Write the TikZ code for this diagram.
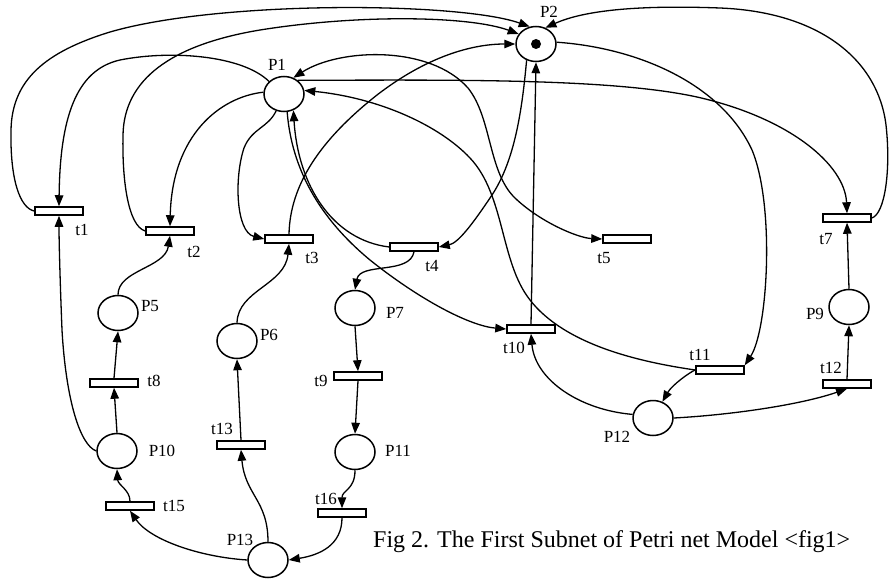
\documentclass[tikz,border=0pt]{standalone}
\usepackage{fontspec}
\setmainfont{Liberation Serif}
\usetikzlibrary{arrows.meta,shapes.geometric}
\begin{document}
\begin{tikzpicture}[x=1pt,y=-1pt,
  pplace/.style={draw,ellipse,minimum width=40pt,minimum height=35pt,inner sep=0pt,line width=1.5pt},
  ptrans/.style={draw,rectangle,minimum width=48pt,minimum height=8pt,inner sep=0pt,line width=1.5pt,fill=white},
  pnarc/.style={line width=1.3pt,-{Triangle[length=11pt,width=8.5pt]}},
  pnboth/.style={line width=1.3pt,{Triangle[length=11pt,width=8.5pt]}-{Triangle[length=11pt,width=8.5pt]}},
  lbl/.style={inner sep=0pt,font=\fontsize{17}{17}\selectfont},
  captxt/.style={inner sep=0pt,anchor=west,font=\fontsize{24}{24}\selectfont}]
\useasboundingbox (0,0) rectangle (891,578);

% places
\node[pplace] (P2) at (536,44) {};
\fill (P2.center) circle (5pt);
\node[pplace] (P1) at (284,94) {};
\node[pplace] (P5) at (118,313) {};
\node[pplace] (P6) at (237,341) {};
\node[pplace] (P7) at (355,308) {};
\node[pplace] (P9) at (849,307) {};
\node[pplace] (P10) at (117,451) {};
\node[pplace] (P11) at (355,452) {};
\node[pplace] (P12) at (653,418) {};
\node[pplace] (P13) at (268,560) {};

% transitions
\node[ptrans] (t1) at (59,211) {};
\node[ptrans] (t2) at (170,231) {};
\node[ptrans] (t3) at (289,239) {};
\node[ptrans] (t4) at (414,247) {};
\node[ptrans] (t5) at (627,239) {};
\node[ptrans] (t7) at (847,218) {};
\node[ptrans] (t8) at (114,383) {};
\node[ptrans] (t9) at (358,376) {};
\node[ptrans] (t10) at (531,329) {};
\node[ptrans] (t11) at (720,370) {};
\node[ptrans] (t12) at (847,384) {};
\node[ptrans] (t13) at (241,445) {};
\node[ptrans] (t15) at (130,506) {};
\node[ptrans] (t16) at (342,513) {};

% labels
\node[lbl] (lP1) at (277,65) {P1};
\node[lbl] (lP2) at (549,12) {P2};
\node[lbl] (lP5) at (150,306) {P5};
\node[lbl] (lP6) at (269,335) {P6};
\node[lbl] (lP7) at (395,313) {P7};
\node[lbl] (lP9) at (815,314) {P9};
\node[lbl] (lP10) at (162,451) {P10};
\node[lbl] (lP11) at (398,451) {P11};
\node[lbl] (lP12) at (617,437) {P12};
\node[lbl] (lP13) at (240,540) {P13};
\node[lbl] (lt1) at (82,230) {t1};
\node[lbl] (lt2) at (194,252) {t2};
\node[lbl] (lt3) at (312,258) {t3};
\node[lbl] (lt4) at (432,266) {t4};
\node[lbl] (lt5) at (604,258) {t5};
\node[lbl] (lt7) at (826,239) {t7};
\node[lbl] (lt8) at (154,381) {t8};
\node[lbl] (lt9) at (321,381) {t9};
\node[lbl] (lt10) at (514,348) {t10};
\node[lbl] (lt11) at (700,355) {t11};
\node[lbl] (lt12) at (831,368) {t12};
\node[lbl] (lt13) at (222,429) {t13};
\node[lbl] (lt15) at (174,506) {t15};
\node[lbl] (lt16) at (326,499) {t16};
\node[captxt] (cap) at (373,542) {Fig 2. The First Subnet of Petri net Model <fig1>};

% arcs into P2
\draw[pnarc] (t1.west) .. controls (20,208) and (10,180) .. (11,130) .. controls (12,80) and (45,52) .. (110,32) .. controls (220,0) and (460,2) .. (P2.110);
\draw[pnarc] (t2.west) .. controls (128,226) and (122,180) .. (123,135) .. controls (124,80) and (170,45) .. (260,30) .. controls (360,14) and (470,16) .. (P2.150);
\draw[pnarc] (t3.north) .. controls (290,185) and (320,140) .. (377,95) .. controls (425,58) and (470,44) .. (P2.west);
\draw[pnarc] (t7.east) .. controls (885,214) and (891,170) .. (886,125) .. controls (878,60) and (820,12) .. (720,8) .. controls (640,5) and (585,10) .. (P2.60);
\draw[pnarc] (t10.north) -- (P2.south);
% arcs out of P2
\draw[pnarc] (P2.240) .. controls (522,110) and (515,160) .. (492,195) .. controls (472,225) and (458,243) .. (t4.east);
\draw[pnarc] (P2.5) .. controls (640,48) and (722,85) .. (752,150) .. controls (775,205) and (768,330) .. (t11.north east);

% arcs of P1
\draw[pnarc] (P1.45) .. controls (450,80) and (610,78) .. (697,97) .. controls (790,118) and (845,165) .. (t7.north);
\draw[pnarc] (P1.-80) .. controls (291,160) and (312,212) .. (370,260) .. controls (420,300) and (470,326) .. (t10.west);
\draw[pnarc] (t4.west) .. controls (332,240) and (298,185) .. (P1.-60);
\draw[pnarc] (P1.140) .. controls (242,55) and (170,50) .. (120,60) .. controls (75,70) and (60,120) .. (t1.north);
\draw[pnarc] (P1.175) .. controls (220,97) and (172,135) .. (t2.north);
\draw[pnarc] (P1.245) .. controls (268,128) and (252,128) .. (244,148) .. controls (234,178) and (236,232) .. (t3.west);
\draw[pnarc] (t11.west) .. controls (640,362) and (565,345) .. (530,300) .. controls (500,262) and (505,195) .. (470,158) .. controls (440,126) and (380,98) .. (P1.10);
\draw[pnboth] (P1.60) .. controls (340,48) and (430,45) .. (468,88) .. controls (492,118) and (488,172) .. (515,198) .. controls (540,222) and (578,238) .. (t5.west);

% left chains
\draw[pnarc] (P5.north) .. controls (118,270) and (165,268) .. (t2.south);
\draw[pnarc] (t8.north) -- (P5.south);
\draw[pnarc] (P10.north) -- (t8.south);
\draw[pnarc] (P10.west) .. controls (80,445) and (66,400) .. (62,330) .. controls (60,280) and (59,240) .. (t1.south);
\draw[pnarc] (t15.north) .. controls (130,490) and (118,485) .. (P10.south);
\draw[pnarc] (P13.west) .. controls (200,557) and (150,540) .. (t15.south);
\draw[pnarc] (P13.north) .. controls (268,500) and (245,495) .. (t13.south);
\draw[pnarc] (t13.north) -- (P6.south);
\draw[pnarc] (P6.north) .. controls (238,290) and (285,285) .. (t3.south);

% middle chain
\draw[pnarc] (t4.south) .. controls (410,275) and (360,262) .. (P7.north);
\draw[pnarc] (P7.south) -- (t9.north);
\draw[pnarc] (t9.south) -- (P11.north);
\draw[pnarc] (P11.south) .. controls (355,490) and (342,490) .. (t16.north);
\draw[pnarc] (t16.south) .. controls (342,545) and (320,555) .. (P13.east);

% right chain
\draw[pnarc] (P9.north) -- (t7.south);
\draw[pnarc] (t12.north) -- (P9.south);
\draw[pnarc] (P12.east) .. controls (730,415) and (800,405) .. (t12.south);
\draw[pnarc] (t11.west) .. controls (690,372) and (672,385) .. (P12.60);
\draw[pnarc] (P12.170) .. controls (580,410) and (535,380) .. (t10.south);
\end{tikzpicture}
\end{document}
